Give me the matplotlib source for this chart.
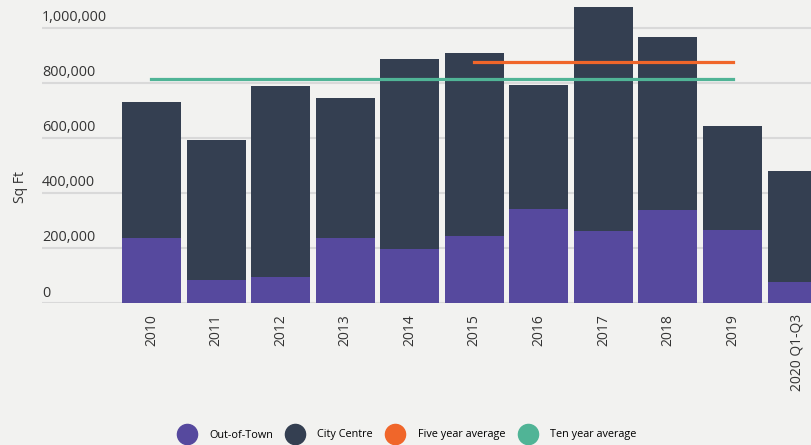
import matplotlib.pyplot as plt
from matplotlib.lines import Line2D

plt.rcParams['font.family'] = ['Open Sans', 'DejaVu Sans']

# Data (sq ft)
periodos = ['2010', '2011', '2012', '2013', '2014', '2015', '2016', '2017', '2018', '2019', '2020 Q1-Q3']
fora_cidade = [236000, 84000, 95000, 236000, 196000, 244000, 342000, 262000, 338000, 265000, 76000]
centro = [495000, 509000, 694000, 509000, 691000, 665000, 451000, 814000, 629000, 379000, 404000]
media_5_anos = 876000
media_10_anos = 814000
yticks = [0, 200000, 400000, 600000, 800000, 1000000]

cor_fora = '#56499E'
cor_centro = '#343F51'
cor_5 = '#F0662A'
cor_10 = '#50B496'
fundo = '#F2F2F0'

fig = plt.figure(figsize=(8.11, 4.45), dpi=100, facecolor=fundo)
ax = fig.add_axes([42 / 811, 142 / 445, 769 / 811, 303 / 445])
ax.set_facecolor(fundo)

x = list(range(len(periodos)))
ax.bar(x, fora_cidade, width=0.914, color=cor_fora, zorder=3)
ax.bar(x, centro, bottom=fora_cidade, width=0.914, color=cor_centro, zorder=3)

# Averages drawn across bar centres
ax.plot([x[5], x[9]], [media_5_anos, media_5_anos], color=cor_5, lw=2.3, zorder=4)
ax.plot([x[0], x[9]], [media_10_anos, media_10_anos], color=cor_10, lw=2.3, zorder=4)

ax.set_xlim(-1.696, 10.215)
ax.set_ylim(0, 1100000)

# Gridlines with labels sitting above them
for v in yticks:
    ax.axhline(v, color='#D9D9D9', lw=1.5, zorder=1)
    ax.text(-1.696, v + 9000, f'{v:,}', fontsize=10.4, color='#333333', va='bottom', ha='left')

ax.set_yticks([])
ax.set_xticks(x)
ax.set_xticklabels(periodos, rotation=90, fontsize=10, color='#333333')
ax.tick_params(axis='x', length=0, pad=8)
for s in ax.spines.values():
    s.set_visible(False)

fig.text(20 / 811, 1 - 187 / 445, 'Sq Ft', rotation=90, fontsize=10, color='#333333', va='center', ha='center')

handles = [Line2D([], [], ls='', marker='o', ms=14.5, color=c) for c in [cor_fora, cor_centro, cor_5, cor_10]]
labels = ['Out-of-Town', 'City Centre', 'Five year average', 'Ten year average']
fig.legend(handles, labels, loc='center', bbox_to_anchor=(406 / 811, 1 - 435 / 445), ncol=4,
           frameon=False, fontsize=7.8, handletextpad=1.06, columnspacing=1.06)

fig.savefig('out.png', dpi=100, facecolor=fundo)
